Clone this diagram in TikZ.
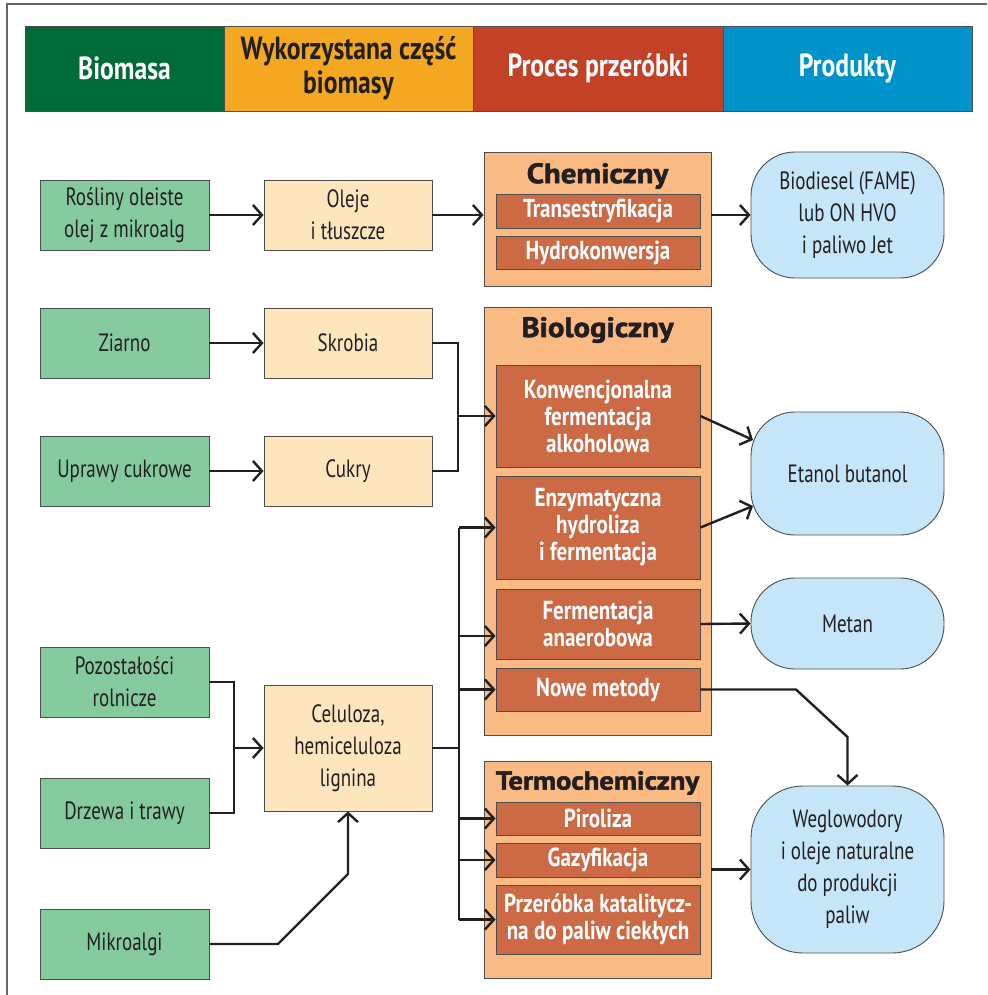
\documentclass[tikz,border=0pt]{standalone}
\usepackage{fontspec}
\setmainfont{PT Sans}[FakeStretch=0.76]
\newfontfamily\methodfont{PT Sans}[FakeStretch=0.81]
\newfontfamily\headfont{PT Sans}[FakeStretch=0.8]
\newfontfamily\titlefont{PT Sans}[FakeStretch=1.1,BoldFeatures={FakeBold=2}]
\usetikzlibrary{arrows.meta}
\definecolor{hgreen}{HTML}{006B37}
\definecolor{horange}{HTML}{F4A721}
\definecolor{hred}{HTML}{C24127}
\definecolor{hblue}{HTML}{0093C9}
\definecolor{gboxc}{HTML}{84CA9C}
\definecolor{beigec}{HTML}{FDE6BE}
\definecolor{procbg}{HTML}{F9BA84}
\definecolor{rustc}{HTML}{CC6A46}
\definecolor{prodc}{HTML}{C4E6F8}
\definecolor{ink}{HTML}{231F20}
\definecolor{edgec}{HTML}{4D4D4D}
\begin{document}
\begin{tikzpicture}[x=1pt,y=-1pt,
  basebox/.style={draw=edgec, line width=0.9pt, inner sep=0pt, align=center, text=ink, font=\fontsize{25}{32}\selectfont},
  hdr/.style={basebox, minimum height=85pt, font=\headfont\fontsize{32}{34}\selectfont\bfseries, text=white},
  srcbox/.style={basebox, fill=gboxc, minimum width=169pt, minimum height=70pt},
  partbox/.style={basebox, fill=beigec, minimum width=168pt, minimum height=70pt},
  procgroup/.style={basebox, fill=procbg, minimum width=227pt},
  methodbox/.style={basebox, fill=rustc, minimum width=204pt, text=white, font=\methodfont\fontsize{26}{27}\selectfont\bfseries},
  prodbox/.style={basebox, fill=prodc, minimum width=193pt, rounded corners=44pt},
  gtitle/.style={inner sep=0pt, text=ink, font=\titlefont\bfseries\fontsize{28}{30}\selectfont},
  conn/.style={draw=ink, line width=2.4pt},
  arr/.style={conn, -{Straight Barb[length=9pt,width=20pt]}}
]
\useasboundingbox (0,0) rectangle (987,995);
% frame
\draw[draw=black!60, line width=1.5pt] (7,995) -- (7,4) -- (987,4);
% header
\node[hdr, fill=hgreen, minimum width=199pt] (h1) at (124.5,68.5) {Biomasa};
\node[hdr, fill=horange, minimum width=249pt, text=ink] (h2) at (348.5,68.5) {Wykorzystana część\\biomasy};
\node[hdr, fill=hred, minimum width=250pt] (h3) at (598,68.5) {Proces przeróbki};
\node[hdr, fill=hblue, minimum width=249pt] (h4) at (847.5,68.5) {Produkty};
% sources
\node[srcbox] (r1) at (124.5,215) {Rośliny oleiste\\olej z mikroalg};
\node[srcbox] (r2) at (124.5,343) {Ziarno};
\node[srcbox] (r3) at (124.5,471) {Uprawy cukrowe};
\node[srcbox] (r4) at (124.5,682) {Pozostałości\\rolnicze};
\node[srcbox] (r5) at (124.5,813) {Drzewa i trawy};
\node[srcbox] (r6) at (124.5,944) {Mikroalgi};
% parts
\node[partbox] (u1) at (348,215) {Oleje\\i tłuszcze};
\node[partbox] (u2) at (348,343) {Skrobia};
\node[partbox] (u3) at (348,471) {Cukry};
\node[partbox, minimum height=126pt] (u4) at (348,748) {Celuloza,\\hemiceluloza\\lignina};
% process groups
\node[procgroup, minimum height=134pt] (chem) at (597.5,219) {};
\node[procgroup, minimum height=428pt] (bio) at (597.5,521) {};
\node[procgroup, minimum height=217pt] (term) at (597.5,869.5) {};
\node[gtitle] (chemt) at (597.5,176) {Chemiczny};
\node[gtitle] (biot) at (597.5,330) {Biologiczny};
\node[gtitle, font=\titlefont\bfseries\fontsize{26}{30}\selectfont] (termt) at (597.5,783) {Termochemiczny};
\node[methodbox, minimum height=34pt] (t1) at (598,211) {Transestryfikacja};
\node[methodbox, minimum height=33pt] (t2) at (598,252.5) {Hydrokonwersja};
\node[methodbox, minimum height=102pt] (b1) at (598,416) {Konwencjonalna\\fermentacja\\alkoholowa};
\node[methodbox, minimum height=103pt] (b2) at (598,527.5) {Enzymatyczna\\hydroliza\\i fermentacja};
\node[methodbox, minimum height=70pt] (b3) at (598,624) {Fermentacja\\anaerobowa};
\node[methodbox, minimum height=43pt] (b4) at (598,689.5) {Nowe metody};
\node[methodbox, minimum height=33pt] (p1) at (598,818.5) {Piroliza};
\node[methodbox, minimum height=34pt] (p2) at (598,860) {Gazyfikacja};
\node[methodbox, minimum height=69pt] (p3) at (598,919.5) {Przeróbka katalitycz-\\na do paliw ciekłych};
% products
\node[prodbox, minimum height=126pt] (prod1) at (847.5,215) {Biodiesel (FAME)\\lub ON HVO\\i paliwo Jet};
\node[prodbox, minimum height=123pt] (prod2) at (847.5,473.5) {Etanol butanol};
\node[prodbox, minimum height=91pt] (prod3) at (847.5,623.5) {Metan};
\node[prodbox, minimum height=167pt, rounded corners=52pt] (prod4) at (847.5,869.5) {Weglowodory\\i oleje naturalne\\do produkcji\\paliw};
% connectors
\draw[arr] (r1.east) -- (u1.west);
\draw[arr] (r2.east) -- (u2.west);
\draw[arr] (r3.east) -- (u3.west);
\draw[arr] (u1.east) -- (chem.west |- u1.east);
\draw[arr] (chem.east |- u1.east) -- (prod1.west);
% starch & sugars
\coordinate (jB) at (458,416);
\draw[conn] (u2.east) -| (jB) |- (u3.east);
\draw[arr] (jB) -- (b1.west);
% residues
\coordinate (jA) at (234,748);
\draw[conn] (r4.east) -| (jA) |- (r5.east);
\draw[arr] (jA) -- (u4.west);
% microalgae
\coordinate (mk1) at (278,944);
\coordinate (mk2) at (348,874);
\draw[arr] (r6.east) -- (mk1) -- (mk2) -- (u4.south);
% cellulose bus
\coordinate (jC) at (459,748);
\coordinate (yb3) at (0,636);
\draw[conn] (u4.east) -- (jC);
\draw[conn] (jC |- b2.west) -- (jC |- p3.west);
\draw[arr] (jC |- b2.west) -- (b2.west);
\draw[arr] (jC |- yb3) -- (b3.west |- yb3);
\draw[arr] (jC |- b4.west) -- (b4.west);
\draw[arr] (jC |- p1.west) -- (p1.west);
\draw[arr] (jC |- p2.west) -- (p2.west);
\draw[arr] (jC |- p3.west) -- (p3.west);
% to products
\coordinate (e1) at (753,440);
\coordinate (e2) at (753,506);
\draw[arr] (b1.east) -- (e1);
\draw[arr] (b2.east) -- (e2);
\draw[arr] (b3.east) -- (prod3.west);
\coordinate (nm1) at (796,689.5);
\coordinate (nm2) at (847.5,737);
\draw[arr] (b4.east) -- (nm1) -- (nm2) -- (prod4.north);
\draw[arr] (term.east) -- (prod4.west);
\end{tikzpicture}
\end{document}
